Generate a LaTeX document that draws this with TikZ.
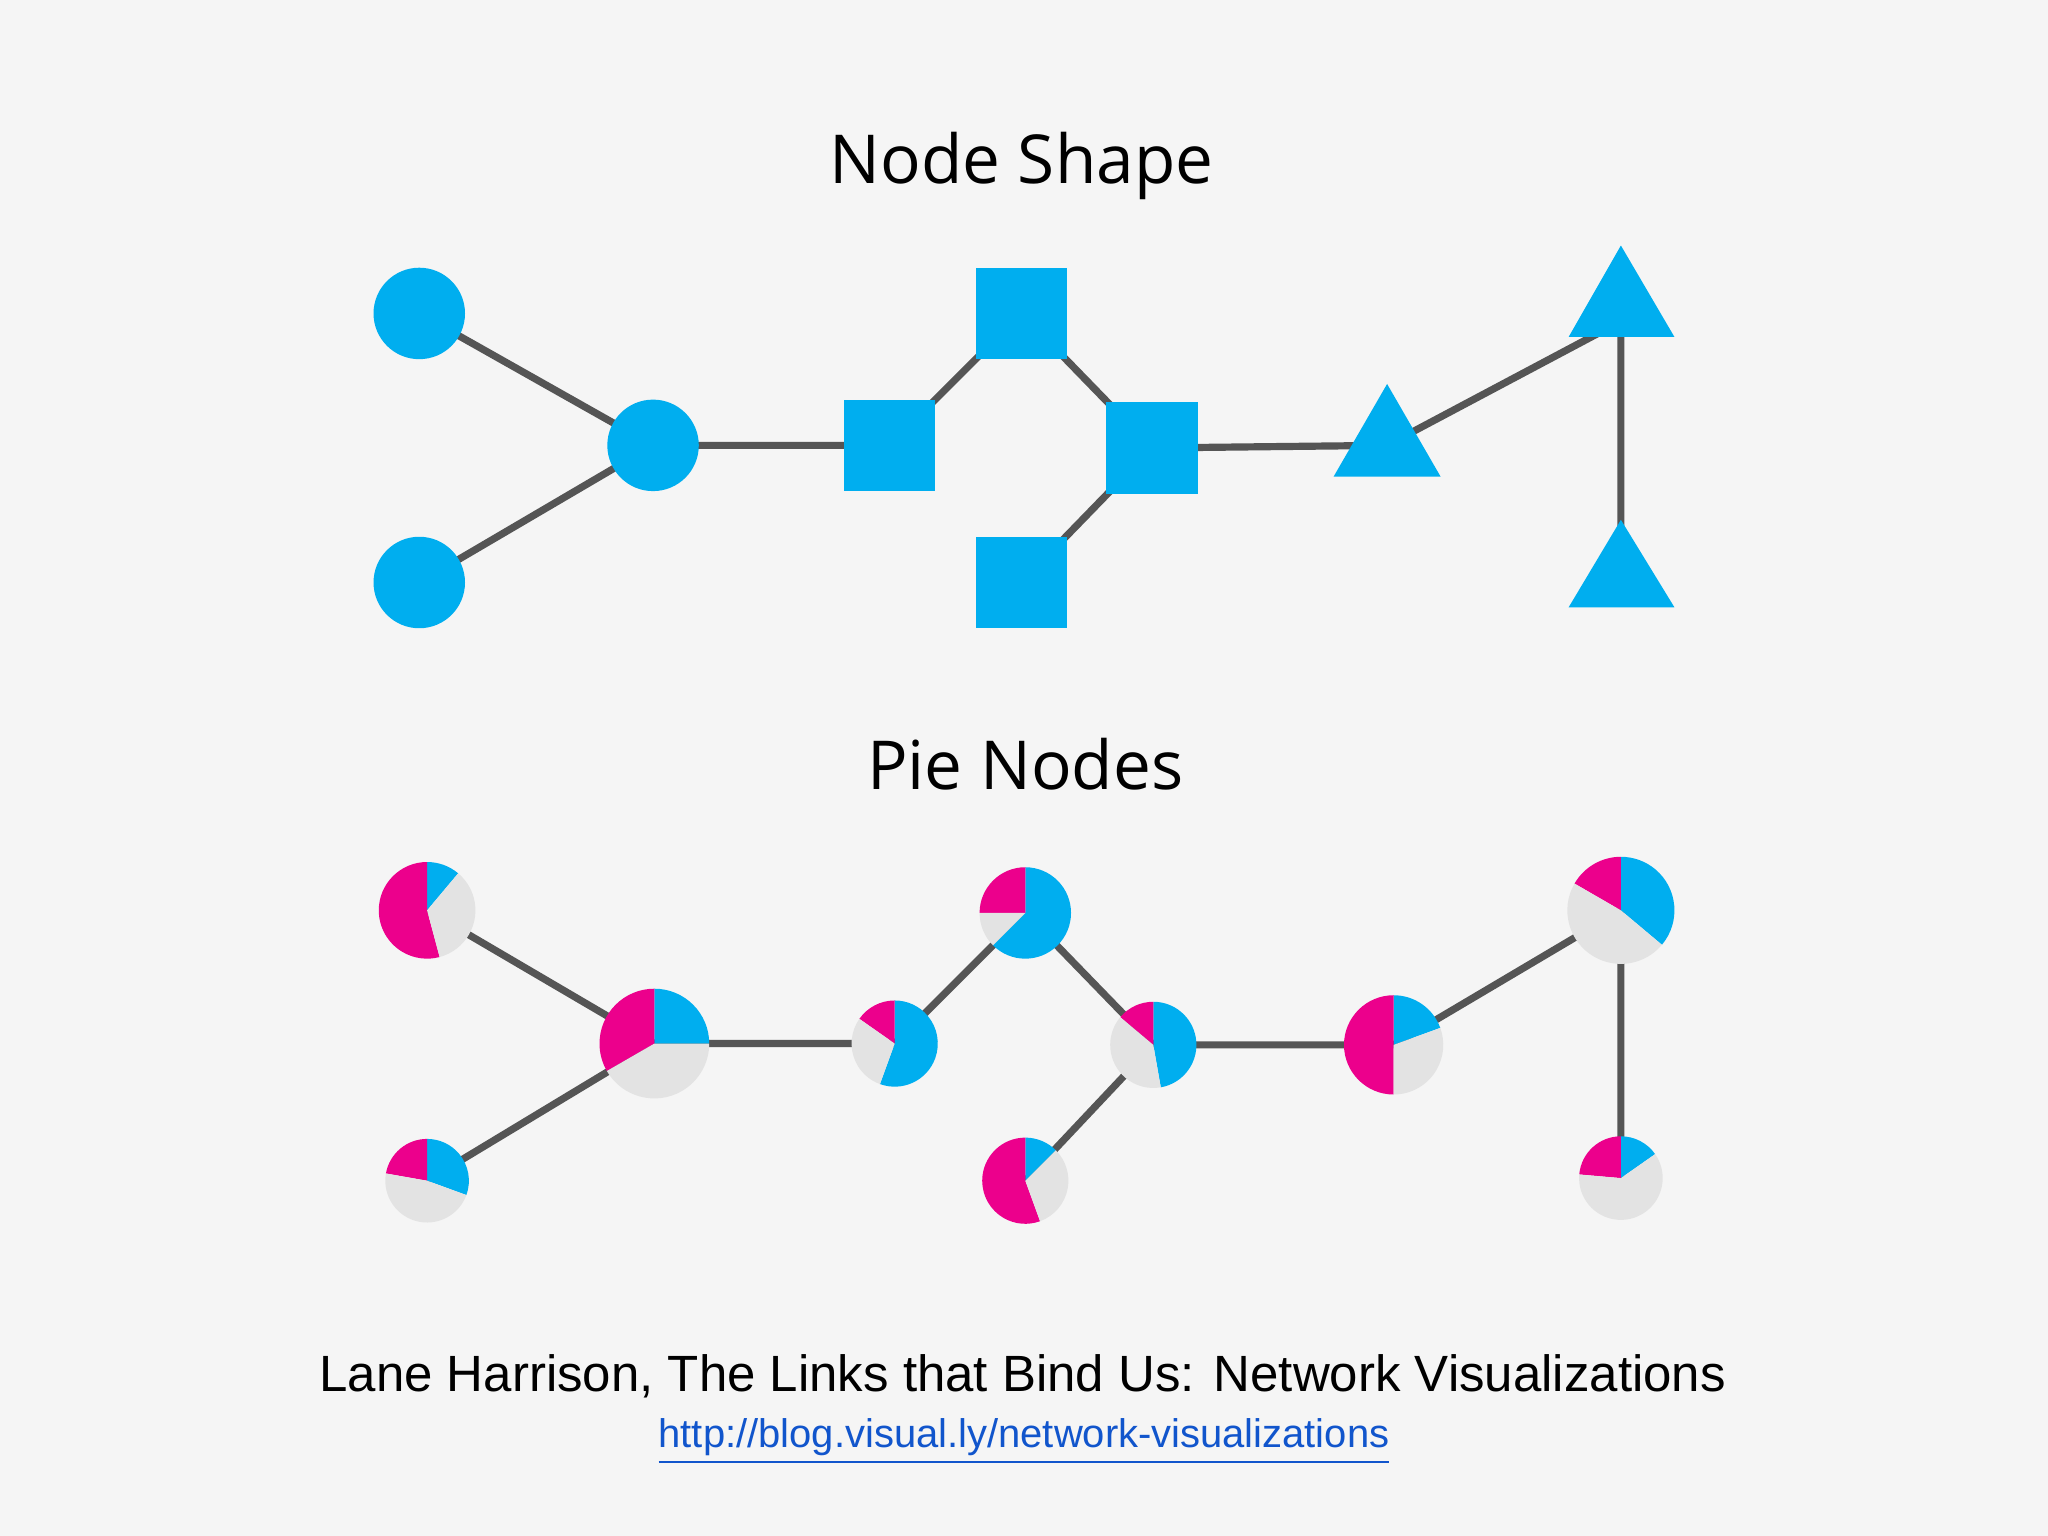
\documentclass[tikz,border=0pt]{standalone}
\usepackage{fontspec}
\setmainfont{Liberation Sans}
\newfontfamily\titlefont{Open Sans}
\usetikzlibrary{shapes.geometric}
\definecolor{cblue}{HTML}{00AEEF}
\definecolor{cmag}{HTML}{EC008C}
\definecolor{cgray}{HTML}{E3E3E3}
\definecolor{bg}{HTML}{F5F5F5}
\definecolor{edge}{HTML}{555555}
\definecolor{link}{HTML}{1155CC}
\newcommand{\slc}[5]{\fill[#5] (#1) -- ++(#3:#2) arc[start angle=#3,end angle=#4,radius=#2] -- cycle;}
\begin{document}
\begin{tikzpicture}[x=0.01cm,y=0.01cm,
  e/.style={draw=edge,line width=0.055cm},
  circ/.style={circle,fill=cblue,minimum size=0.7cm,inner sep=0},
  sq/.style={rectangle,fill=cblue,minimum size=0.7cm,inner sep=0},
  tri/.style={fill=cblue},
  pn/.style={circle,minimum size=#1,inner sep=0}]
\fill[bg] (0,0) rectangle (1568,1176);
\useasboundingbox (0,0) rectangle (1568,1176);
% titles
\node (t1) at (782,1049) {\titlefont\fontsize{14.7}{18}\selectfont Node Shape};
\node (t2) at (785,591) {\titlefont\fontsize{14.7}{18}\selectfont Pie Nodes};
\node (f1) at (783,122) {\fontsize{11.1}{14}\selectfont Lane Harrison, The Links that Bind Us: Network Visualizations};
\node (f2) at (784,72) {\fontsize{8.7}{11}\selectfont\color{link}\underline{http://blog.visual.ly/network-visualizations}};
% node shape graph
\coordinate (c1) at (321,936);
\coordinate (c2) at (321,730);
\coordinate (c3) at (500,835);
\coordinate (s1) at (681,835);
\coordinate (s2) at (782,936);
\coordinate (s3) at (882,833);
\coordinate (s4) at (782,730);
\coordinate (r1) at (1062,835);
\coordinate (r2) at (1241,930);
\coordinate (r3) at (1241,735);
\draw[e] (c1) -- (c3) (c2) -- (c3) (c3) -- (s1) (s1) -- (s2) (s2) -- (s3) (s3) -- (s4) (s3) -- (r1) (r1) -- (r2) (r2) -- (r3);
\node[circ] (nc1) at (c1) {};
\node[circ] (nc2) at (c2) {};
\node[circ] (nc3) at (c3) {};
\node[sq] (ns1) at (s1) {};
\node[sq] (ns2) at (s2) {};
\node[sq] (ns3) at (s3) {};
\node[sq] (ns4) at (s4) {};
\fill[tri] (1062,882) -- (1103,811) -- (1021,811) -- cycle;
\fill[tri] (1241,988) -- (1282,918) -- (1201,918) -- cycle;
\fill[tri] (1241,778) -- (1282,711) -- (1201,711) -- cycle;
% pie graph
\coordinate (p1) at (327,479);
\coordinate (p2) at (501,377);
\coordinate (p3) at (685,377);
\coordinate (p4) at (785,477);
\coordinate (p5) at (883,376);
\coordinate (p6) at (1067,376);
\coordinate (p7) at (1241,479);
\coordinate (p8) at (327,272);
\coordinate (p9) at (785,272);
\coordinate (p10) at (1241,274);
\draw[e] (p1) -- (p2) (p8) -- (p2) (p2) -- (p3) (p3) -- (p4) (p4) -- (p5) (p5) -- (p9) (p5) -- (p6) (p6) -- (p7) (p7) -- (p10);
\slc{p1}{37}{50}{90}{cblue}\slc{p1}{37}{90}{285}{cmag}\slc{p1}{37}{285}{410}{cgray}
\slc{p2}{42}{0}{90}{cblue}\slc{p2}{42}{90}{210}{cmag}\slc{p2}{42}{210}{360}{cgray}
\slc{p3}{33}{250}{450}{cblue}\slc{p3}{33}{90}{145}{cmag}\slc{p3}{33}{145}{250}{cgray}
\slc{p4}{35}{225}{450}{cblue}\slc{p4}{35}{90}{180}{cmag}\slc{p4}{35}{180}{225}{cgray}
\slc{p5}{33}{280}{450}{cblue}\slc{p5}{33}{90}{140}{cmag}\slc{p5}{33}{140}{280}{cgray}
\slc{p6}{38}{20}{90}{cblue}\slc{p6}{38}{90}{270}{cmag}\slc{p6}{38}{270}{380}{cgray}
\slc{p7}{41}{320}{450}{cblue}\slc{p7}{41}{90}{150}{cmag}\slc{p7}{41}{150}{320}{cgray}
\slc{p8}{32}{340}{450}{cblue}\slc{p8}{32}{90}{170}{cmag}\slc{p8}{32}{170}{340}{cgray}
\slc{p9}{33}{45}{90}{cblue}\slc{p9}{33}{90}{290}{cmag}\slc{p9}{33}{290}{405}{cgray}
\slc{p10}{32}{35}{90}{cblue}\slc{p10}{32}{90}{175}{cmag}\slc{p10}{32}{175}{395}{cgray}
\foreach \p/\r in {p1/74,p2/84,p3/66,p4/70,p5/66,p6/76,p7/82,p8/64,p9/66,p10/64}
  \node[pn=\r*0.01cm] (n\p) at (\p) {};
\end{tikzpicture}
\end{document}
